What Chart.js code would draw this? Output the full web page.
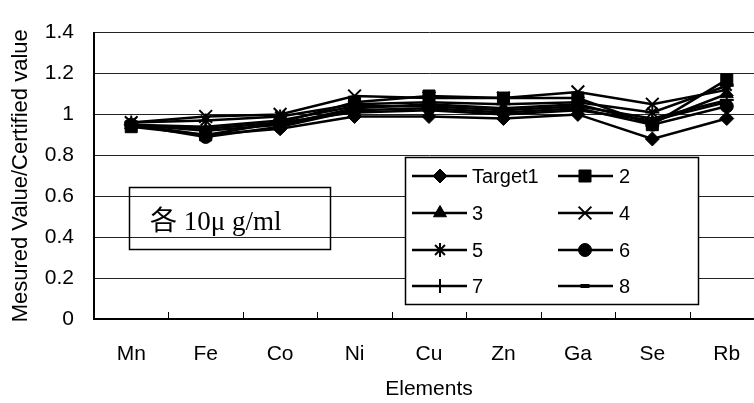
<!DOCTYPE html>
<html>
<head>
<meta charset="utf-8">
<script src="https://cdn.jsdelivr.net/npm/chart.js"></script>
<style>
  html, body { margin: 0; padding: 0; background: #fff; }
  #wrap { width: 754px; height: 403px; overflow: hidden; position: relative; }
  canvas { display: block; }
</style>
</head>
<body>
<div id="wrap"><canvas id="chart" width="780" height="403"></canvas></div>
<script>
// categories and y tick labels
const elements = ['Mn', 'Fe', 'Co', 'Ni', 'Cu', 'Zn', 'Ga', 'Se', 'Rb'];
const yTickLabels = ['0', '0.2', '0.4', '0.6', '0.8', '1', '1.2', '1.4'];

// series values (Mesured / Certified)
const target1 = [0.95, 0.90, 0.93, 0.99, 0.99, 0.98, 1.00, 0.88, 0.98];
const s2 = [0.94, 0.90, 0.96, 1.06, 1.09, 1.08, 1.08, 0.95, 1.17];
const s3 = [0.95, 0.92, 0.95, 1.03, 1.05, 1.03, 1.05, 0.96, 1.10];
const s4 = [0.96, 0.99, 1.00, 1.09, 1.08, 1.08, 1.11, 1.05, 1.12];
const s5 = [0.96, 0.97, 0.99, 1.05, 1.06, 1.05, 1.06, 1.01, 1.14];
const s6 = [0.95, 0.89, 0.94, 1.02, 1.03, 1.01, 1.03, 0.95, 1.04];
const s7 = [0.95, 0.94, 0.97, 1.04, 1.04, 1.02, 1.04, 0.98, 1.07];
const s8 = [0.95, 0.93, 0.96, 1.01, 1.02, 1.00, 1.02, 0.97, 1.06];

const seriesNames = ['Target1', '2', '3', '4', '5', '6', '7', '8'];
const seriesData = [target1, s2, s3, s4, s5, s6, s7, s8];
const markers = [
  { style: 'rectRot', r: 7, bw: 1 },
  { style: 'rect', r: 8.5, bw: 1 },
  { style: 'triangle', r: 7.5, bw: 1 },
  { style: 'crossRot', r: 9, bw: 2 },
  { style: 'star', r: 7, bw: 2 },
  { style: 'circle', r: 6.5, bw: 1 },
  { style: 'cross', r: 7, bw: 2 },
  { style: 'line', r: 4.5, bw: 4 }
];

const datasets = seriesData.map((d, i) => ({
  label: seriesNames[i],
  data: d,
  borderColor: '#000',
  backgroundColor: '#000',
  borderWidth: 2.5,
  pointStyle: markers[i].style,
  pointRadius: markers[i].r,
  pointBorderWidth: markers[i].bw,
  pointBorderColor: '#000',
  pointBackgroundColor: '#000',
  tension: 0
}));

// small inner tick marks on the category axis, legend box and note box
const extras = {
  id: 'extras',
  afterDraw(chart) {
    const ctx = chart.ctx;
    const x = chart.scales.x;
    const area = chart.chartArea;
    ctx.save();
    ctx.strokeStyle = '#000';
    ctx.lineWidth = 1;
    for (let i = 1; i < elements.length; i++) {
      const px = Math.round((x.getPixelForValue(i - 1) + x.getPixelForValue(i)) / 2) + 0.5;
      ctx.beginPath();
      ctx.moveTo(px, area.bottom);
      ctx.lineTo(px, area.bottom - 7);
      ctx.stroke();
    }

    // note box
    ctx.lineWidth = 1.5;
    ctx.strokeRect(129.5, 187.5, 201, 62);
    ctx.fillStyle = '#000';
    ctx.font = '27px "Liberation Serif", "Noto Sans CJK JP", serif';
    ctx.textBaseline = 'alphabetic';
    ctx.textAlign = 'left';
    ctx.fillText('各 10μ g/ml', 150, 230);

    // legend
    ctx.fillStyle = '#fff';
    ctx.fillRect(405, 157, 293, 147);
    ctx.strokeStyle = '#000';
    ctx.lineWidth = 1.5;
    ctx.strokeRect(405.5, 157.5, 293, 147);
    const rows = [176, 213, 250, 286];
    const cols = [{ l: 412, m: 440, r: 467, t: 472 }, { l: 558, m: 585, r: 613, t: 619 }];
    ctx.font = '20px "Liberation Sans", Arial, sans-serif';
    ctx.textBaseline = 'middle';
    seriesNames.forEach((name, i) => {
      const c = cols[i % 2];
      const y = rows[Math.floor(i / 2)];
      ctx.strokeStyle = '#000';
      ctx.lineWidth = 2.5;
      ctx.beginPath();
      ctx.moveTo(c.l, y);
      ctx.lineTo(c.r, y);
      ctx.stroke();
      ctx.fillStyle = '#000';
      ctx.lineWidth = markers[i].bw;
      Chart.helpers.drawPoint(ctx, {
        pointStyle: markers[i].style,
        radius: markers[i].r,
        rotation: 0,
        borderWidth: markers[i].bw
      }, c.m, y);
      ctx.fillStyle = '#000';
      ctx.fillText(name, c.t, y + 1);
    });
    ctx.restore();
  }
};

new Chart(document.getElementById('chart'), {
  type: 'line',
  data: { labels: elements, datasets: datasets },
  options: {
    responsive: false,
    animation: false,
    devicePixelRatio: 1,
    layout: { padding: { left: 0, right: 16, top: 21, bottom: 0 } },
    plugins: { legend: { display: false }, tooltip: { enabled: false } },
    scales: {
      x: {
        offset: true,
        grid: { display: true, drawOnChartArea: false, drawTicks: false },
        border: { color: '#000', width: 2 },
        ticks: {
          color: '#000',
          padding: 23,
          maxRotation: 0,
          autoSkip: false,
          font: { family: '"Liberation Sans", Arial, sans-serif', size: 21 }
        },
        title: {
          display: true,
          text: 'Elements',
          color: '#000',
          padding: { top: 0, bottom: 1 },
          font: { family: '"Liberation Sans", Arial, sans-serif', size: 21 }
        },
        afterFit(scale) { scale.height = 84; }
      },
      y: {
        min: 0,
        max: 1.4,
        ticks: {
          stepSize: 0.2,
          color: '#000',
          padding: 20,
          callback: (v, i) => yTickLabels[i],
          font: { family: '"Liberation Sans", Arial, sans-serif', size: 21 }
        },
        grid: { color: '#222', lineWidth: 1, drawTicks: false },
        border: { color: '#000', width: 2 },
        title: {
          display: true,
          text: 'Mesured Value/Certified value',
          color: '#000',
          padding: { top: 8, bottom: 0 },
          font: { family: '"Liberation Sans", Arial, sans-serif', size: 22 }
        },
        afterFit(scale) { scale.width = 94; }
      }
    }
  },
  plugins: [extras]
});
</script>
</body>
</html>
